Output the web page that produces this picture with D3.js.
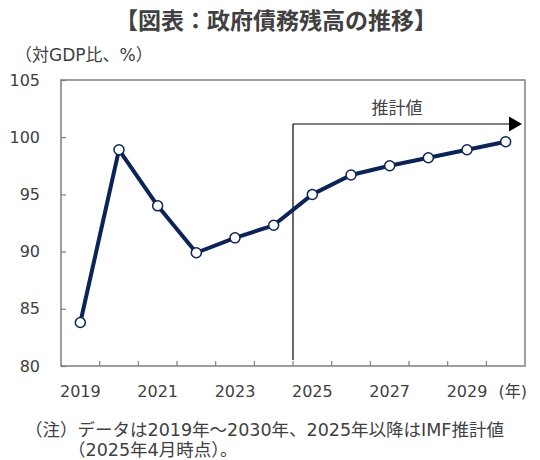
<!DOCTYPE html>
<html><head><meta charset="utf-8">
<script src="https://cdn.jsdelivr.net/npm/d3@7"></script>
<style>body{margin:0;background:#fff}svg{display:block;font-family:"DejaVu Sans","Noto Sans CJK JP",sans-serif}</style>
</head><body><div id="chart"></div>
<script>
const years = ["2019","2020","2021","2022","2023","2024","2025","2026","2027","2028","2029","2030"];
const values = [83.8, 98.9, 94.0, 89.9, 91.2, 92.3, 95.0, 96.7, 97.5, 98.2, 98.9, 99.6];
const yTicks = [80, 85, 90, 95, 100, 105];
const xLabelYears = ["2019","2021","2023","2025","2027","2029"];
const forecastStart = "2025";
const title = "【図表：政府債務残高の推移】";
const yUnit = "（対GDP比、%）";
const xUnit = "(年)";
const forecastLabel = "推計値";
const notes = ["（注）データは2019年～2030年、2025年以降はIMF推計値", "（2025年4月時点）。"];

const W = 540, H = 460;
const m = {l: 61, r: 15, t: 80, b: 94};
const svg = d3.select("#chart").append("svg").attr("width", W).attr("height", H);
const x = d3.scaleBand().domain(years).range([m.l, W - m.r]);
const y = d3.scaleLinear().domain([80, 105]).range([H - m.b, m.t]);
const txt = "#404040", axc = "#7f7f7f", navy = "#0c2357";

svg.append("text").attr("x", 276).attr("y", 29).attr("text-anchor", "middle")
  .attr("font-family", "'Noto Sans CJK JP',sans-serif")
  .attr("font-size", 23).attr("font-weight", "bold").attr("fill", txt).text(title);
svg.append("text").attr("x", 15).attr("y", 61).attr("font-size", 17).attr("fill", txt).text(yUnit);

// frame
svg.append("rect").attr("x", m.l).attr("y", m.t).attr("width", W - m.r - m.l).attr("height", H - m.b - m.t)
  .attr("fill", "none").attr("stroke", axc).attr("stroke-width", 1.5);

// y axis
const yAxis = svg.append("g").attr("transform", `translate(${m.l},0)`)
  .call(d3.axisRight(y).tickValues(yTicks).tickSize(5).tickFormat(""));
yAxis.select(".domain").remove();
yAxis.selectAll("line").attr("stroke", axc).attr("stroke-width", 1.2);
svg.selectAll(".ylab").data(yTicks).join("text").attr("class", "ylab")
  .attr("x", 40).attr("y", d => y(d) + 5.5).attr("text-anchor", "end")
  .attr("font-size", 16).attr("fill", txt).text(d => d);

// x ticks at band boundaries
const bounds = years.slice(1);
svg.selectAll(".xt").data(bounds).join("line").attr("class", "xt")
  .attr("x1", d => x(d)).attr("x2", d => x(d))
  .attr("y1", H - m.b).attr("y2", H - m.b - 5).attr("stroke", axc).attr("stroke-width", 1.2);
svg.selectAll(".xlab").data(xLabelYears).join("text").attr("class", "xlab")
  .attr("x", d => x(d) + x.bandwidth() / 2).attr("y", H - m.b + 31).attr("text-anchor", "middle")
  .attr("font-size", 16).attr("fill", txt).text(d => d);
svg.append("text").attr("x", W - m.r + 2).attr("y", H - m.b + 31).attr("text-anchor", "end")
  .attr("font-size", 16).attr("fill", txt).text(xUnit);

// forecast marker
const fx = x(forecastStart);
const ay = 124;
svg.append("line").attr("x1", fx).attr("x2", fx).attr("y1", ay).attr("y2", H - m.b - 6)
  .attr("stroke", "#000").attr("stroke-width", 1.2);
svg.append("line").attr("x1", fx).attr("x2", W - m.r - 16).attr("y1", ay).attr("y2", ay)
  .attr("stroke", "#000").attr("stroke-width", 1.2);
const tip = W - m.r - 3;
svg.append("path").attr("d", `M${tip},${ay} L${tip - 13},${ay - 7.5} L${tip - 13},${ay + 7.5} Z`).attr("fill", "#000");
svg.append("text").attr("x", 397).attr("y", 114).attr("text-anchor", "middle")
  .attr("font-size", 17).attr("fill", txt).text(forecastLabel);

// line
const cx = d => x(d) + x.bandwidth() / 2;
svg.append("path").datum(years.map((d, i) => [cx(d), y(values[i])]))
  .attr("d", d3.line()).attr("fill", "none").attr("stroke", navy).attr("stroke-width", 4)
  .attr("stroke-linejoin", "round");
svg.selectAll(".pt").data(years).join("circle").attr("class", "pt")
  .attr("cx", d => cx(d)).attr("cy", (d, i) => y(values[i])).attr("r", 5)
  .attr("fill", "#fff").attr("stroke", navy).attr("stroke-width", 1.5);

// notes
svg.append("text").attr("x", 25).attr("y", 436).attr("font-size", 17.5).attr("fill", txt).text(notes[0]);
svg.append("text").attr("x", 68).attr("y", 456).attr("font-size", 17.5).attr("fill", txt).text(notes[1]);
</script></body></html>
